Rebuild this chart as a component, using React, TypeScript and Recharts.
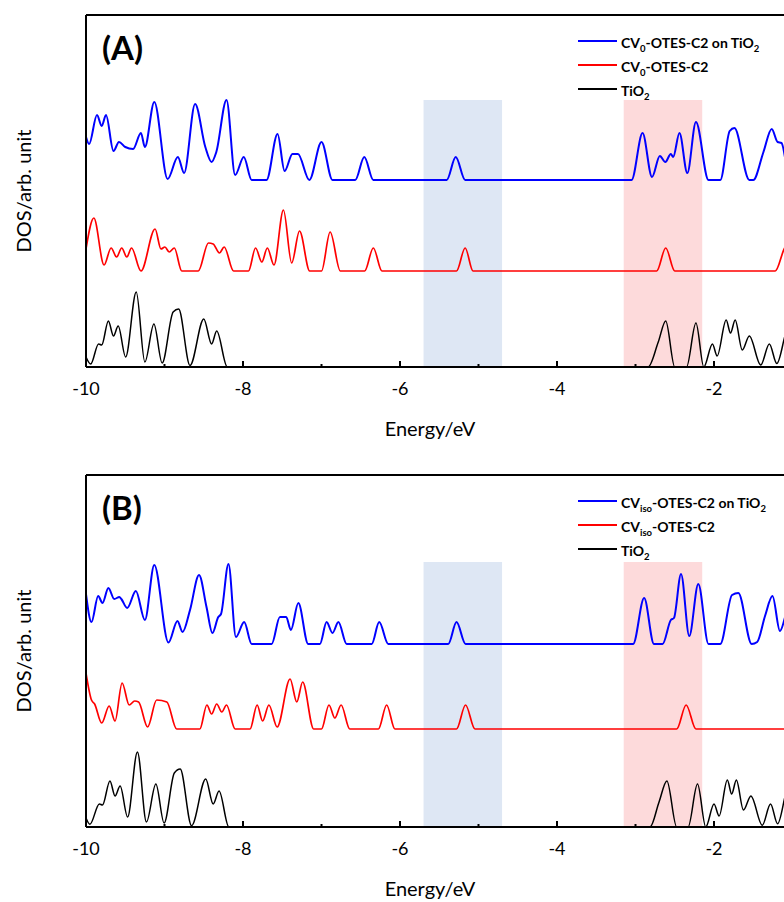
import React from 'react';
import { LineChart, Line, XAxis, YAxis, ReferenceArea, ReferenceLine, Legend } from 'recharts';

type Pt = [number, number];

const blueA: Pt[] = [
  [-10, 4.3], [-9.96, 3.6], [-9.86, 6.5], [-9.8, 5.4], [-9.745, 6.5], [-9.65, 2.9], [-9.58, 3.8],
  [-9.5, 3.3], [-9.4, 3.1], [-9.3, 4.7], [-9.25, 3.3], [-9.13, 7.8], [-8.96, 0.1], [-8.83, 2.3],
  [-8.75, 0.7], [-8.61, 7.6], [-8.48, 3.3], [-8.4, 1.8], [-8.34, 2.8], [-8.21, 8.0], [-8.1, 0.5],
  [-7.99, 2.3], [-7.89, 0], [-7.7, 0], [-7.56, 4.6], [-7.47, 0.9], [-7.37, 2.6], [-7.3, 2.6],
  [-7.155, 0], [-7.0, 3.8], [-6.86, 0], [-6.57, 0], [-6.455, 2.3], [-6.34, 0], [-5.405, 0],
  [-5.29, 2.3], [-5.17, 0], [-3.05, 0], [-2.91, 4.7], [-2.79, 0.3], [-2.69, 2.4], [-2.62, 1.8],
  [-2.55, 2.6], [-2.52, 2.3], [-2.44, 4.7], [-2.34, 0.7], [-2.23, 5.8], [-2.07, 0], [-1.92, 0],
  [-1.8, 4.9], [-1.74, 5.2], [-1.55, 0], [-1.5, 0], [-1.37, 2.8], [-1.265, 5.1], [-1.19, 3.8],
  [-1.14, 3.7], [-1.05, 0.6], [-0.95, 0],
];
const redA: Pt[] = [
  [-10, 2.2], [-9.9, 5.3], [-9.77, 0.6], [-9.68, 2.3], [-9.61, 1.4], [-9.545, 2.3], [-9.48, 1.4],
  [-9.42, 2.3], [-9.3, 0], [-9.12, 4.2], [-9.045, 2.2], [-8.995, 2.4], [-8.94, 1.9], [-8.875, 2.3],
  [-8.78, 0], [-8.57, 0], [-8.44, 2.8], [-8.38, 2.7], [-8.3, 1.8], [-8.24, 2.4], [-8.12, 0],
  [-7.93, 0], [-7.84, 2.3], [-7.76, 0.9], [-7.69, 2.3], [-7.605, 0.6], [-7.485, 6.1], [-7.38, 0.8],
  [-7.28, 4.0], [-7.15, 0], [-7.0, 0], [-6.89, 3.9], [-6.76, 0], [-6.45, 0], [-6.34, 2.3],
  [-6.23, 0], [-5.28, 0], [-5.17, 2.3], [-5.07, 0], [-2.73, 0], [-2.615, 2.3], [-2.5, 0],
  [-1.22, 0], [-1.1, 2.3], [-1.0, 3.0],
];
const blackA: Pt[] = [
  [-10, 1.0], [-9.94, 0.3], [-9.84, 2.3], [-9.8, 2.2], [-9.715, 4.6], [-9.65, 3.1], [-9.59, 4.1],
  [-9.495, 1.0], [-9.36, 7.5], [-9.25, 0.5], [-9.135, 4.3], [-9.03, 0.4], [-8.89, 5.5], [-8.82, 5.8],
  [-8.675, 0.15], [-8.5, 4.8], [-8.4, 2.3], [-8.335, 3.6], [-8.2, 0], [-2.84, 0], [-2.71, 2.5],
  [-2.615, 4.6], [-2.5, 0], [-2.35, 0], [-2.23, 4.4], [-2.13, 0], [-2.02, 2.3], [-1.96, 1.1],
  [-1.845, 4.7], [-1.79, 3.4], [-1.73, 4.7], [-1.64, 1.7], [-1.55, 3.1], [-1.405, 0.2],
  [-1.295, 2.3], [-1.2, 0.35], [-1.05, 4.0], [-0.95, 1.0],
];

const blueB: Pt[] = [
  [-10, 5.0], [-9.93, 2.2], [-9.845, 4.8], [-9.79, 4.1], [-9.715, 5.6], [-9.64, 4.5], [-9.575, 4.7],
  [-9.55, 4.5], [-9.475, 3.6], [-9.365, 5.3], [-9.25, 2.4], [-9.13, 7.9], [-8.95, 0.15], [-8.835, 2.3],
  [-8.77, 1.2], [-8.675, 3.4], [-8.56, 6.9], [-8.465, 3.7], [-8.39, 1.1], [-8.315, 2.7], [-8.28, 3.0],
  [-8.185, 8.0], [-8.09, 0.7], [-7.985, 2.2], [-7.89, 0], [-7.635, 0], [-7.53, 2.7], [-7.45, 2.7],
  [-7.39, 1.4], [-7.295, 4.1], [-7.17, 0], [-7.02, 0], [-6.935, 2.2], [-6.86, 1.1], [-6.785, 2.2],
  [-6.68, 0], [-6.36, 0], [-6.265, 2.2], [-6.15, 0], [-5.385, 0], [-5.28, 2.2], [-5.165, 0],
  [-3.03, 0], [-2.89, 4.6], [-2.765, 0], [-2.655, 0], [-2.55, 2.4], [-2.51, 2.6], [-2.42, 7.0],
  [-2.315, 0.8], [-2.2, 6.0], [-2.07, 0], [-1.92, 0], [-1.77, 4.9], [-1.69, 5.1], [-1.52, 0],
  [-1.45, 0.2], [-1.35, 2.8], [-1.255, 4.8], [-1.16, 1.3], [-1.05, 3.5], [-0.95, 0],
];
const redB: Pt[] = [
  [-10, 5.6], [-9.93, 2.9], [-9.89, 2.5], [-9.8, 0.6], [-9.705, 2.3], [-9.63, 0.8], [-9.54, 4.6],
  [-9.45, 2.4], [-9.38, 2.8], [-9.33, 2.7], [-9.215, 0.2], [-9.1, 2.9], [-8.97, 2.7], [-8.845, 0],
  [-8.55, 0], [-8.46, 2.4], [-8.4, 1.5], [-8.335, 2.5], [-8.27, 1.7], [-8.21, 2.4], [-8.1, 0],
  [-7.91, 0], [-7.82, 2.4], [-7.75, 0.8], [-7.67, 2.4], [-7.565, 0.2], [-7.4, 5.0], [-7.315, 2.7],
  [-7.24, 4.7], [-7.1, 0], [-7.0, 0], [-6.905, 2.4], [-6.83, 1.1], [-6.75, 2.4], [-6.64, 0],
  [-6.275, 0], [-6.17, 2.4], [-6.065, 0], [-5.28, 0], [-5.165, 2.4], [-5.045, 0], [-2.475, 0],
  [-2.355, 2.4], [-2.23, 0], [-0.95, 0],
];
const blackB: Pt[] = [
  [-10, 0.9], [-9.95, 0.27], [-9.83, 2.3], [-9.79, 2.2], [-9.695, 4.6], [-9.63, 3.1], [-9.565, 4.1],
  [-9.47, 1.0], [-9.345, 7.5], [-9.23, 0.5], [-9.11, 4.3], [-9.005, 0.4], [-8.875, 5.4], [-8.8, 5.8],
  [-8.655, 0.13], [-8.475, 4.8], [-8.38, 2.3], [-8.305, 3.6], [-8.18, 0], [-2.815, 0], [-2.7, 2.5],
  [-2.6, 4.6], [-2.475, 0], [-2.33, 0], [-2.21, 4.3], [-2.105, 0], [-2.0, 2.3], [-1.935, 1.1],
  [-1.83, 4.7], [-1.775, 3.3], [-1.715, 4.7], [-1.625, 1.7], [-1.53, 3.1], [-1.385, 0.17],
  [-1.28, 2.3], [-1.19, 0.33], [-1.05, 4.0], [-0.95, 1.0],
];

const namesA = ['CV_{0}-OTES-C2 on TiO_{2}', 'CV_{0}-OTES-C2', 'TiO_{2}'];
const namesB = ['CV_{iso}-OTES-C2 on TiO_{2}', 'CV_{iso}-OTES-C2', 'TiO_{2}'];

// the figure is cropped a little past -1 eV, so no label is drawn beyond -2
const xTicks = [-10, -9, -8, -7, -6, -5, -4, -3, -2, -1];
const blueWindow = [-5.7, -4.7];
const pinkWindow = [-3.15, -2.15];

const FONT = 'Lato, "Open Sans", sans-serif';
const Y_TOP = 35.2;

const rows = (pts: Pt[], shift: number) => pts.map(([e, v]) => ({ e, v: v + shift }));

// "TiO_{2}" -> TiO<sub>2</sub>
const chem = (s: string) =>
  s.split(/_\{([^}]*)\}/).map((part, i) =>
    i % 2 ? (
      <span key={i} style={{ fontSize: '0.68em', position: 'relative', top: 4 }}>{part}</span>
    ) : (
      <span key={i}>{part}</span>
    )
  );

const EnergyTick = (props: any) => {
  const { x, y, payload } = props;
  const major = payload.value % 2 === 0;
  return (
    <g>
      <line x1={x} x2={x} y1={y} y2={y - (major ? 6 : 3)} stroke="#000" strokeWidth={2} />
      {major && (
        <text x={x} y={y + 28} textAnchor="middle" fontSize={18} fontFamily={FONT} fill="#000">
          {payload.value}
        </text>
      )}
    </g>
  );
};

const colors = ['#0000ff', '#ff0000', '#000000'];

const DosLegend = ({ names }: { names: string[] }) => (
  <div style={{ fontFamily: FONT, fontWeight: 700, fontSize: 14, color: '#000' }}>
    {names.map((n, i) => (
      <div key={n} style={{ display: 'flex', alignItems: 'center', height: 24 }}>
        <div style={{ width: 39, height: 2, background: colors[i], marginRight: 4 }} />
        <div style={{ paddingTop: 3, whiteSpace: 'nowrap' }}>{chem(n)}</div>
      </div>
    ))}
  </div>
);

type PanelProps = {
  top: number;
  tag: string;
  curves: Pt[][];
  shifts: number[];
  shadeTop: number;
  names: string[];
};

function DosPanel({ top, tag, curves, shifts, shadeTop, names }: PanelProps) {
  const widths = [2, 1.7, 1.5];
  return (
    <div style={{ position: 'absolute', left: 0, top }}>
      <LineChart width={871} height={460} margin={{ top: 15, right: 0, bottom: 0, left: 0 }}>
        <XAxis
          type="number"
          dataKey="e"
          domain={[-10, 0]}
          ticks={xTicks}
          interval={0}
          tickSize={0}
          tickMargin={0}
          tick={<EnergyTick />}
          height={93}
          axisLine={{ stroke: '#000', strokeWidth: 2 }}
        />
        <YAxis
          type="number"
          domain={[0, Y_TOP]}
          width={86}
          tick={false}
          tickLine={false}
          axisLine={{ stroke: '#000', strokeWidth: 2 }}
          label={{
            value: 'DOS/arb. unit',
            angle: -90,
            position: 'insideLeft',
            offset: 24,
            style: { textAnchor: 'middle', fontSize: 20, fontFamily: FONT, fill: '#000' },
          }}
        />
        <ReferenceLine y={Y_TOP} stroke="#000" strokeWidth={2} />
        {curves.map((c, i) => (
          <Line
            key={i}
            data={rows(c, shifts[i])}
            dataKey="v"
            type="monotone"
            stroke={colors[i]}
            strokeWidth={widths[i]}
            dot={false}
            activeDot={false}
            isAnimationActive={false}
          />
        ))}
        <ReferenceArea x1={blueWindow[0]} x2={blueWindow[1]} y1={0} y2={shadeTop} fill="#5a87c8" fillOpacity={0.2} stroke="none" />
        <ReferenceArea x1={pinkWindow[0]} x2={pinkWindow[1]} y1={0} y2={shadeTop} fill="#f5464b" fillOpacity={0.2} stroke="none" />
        <Legend
          layout="vertical"
          align="center"
          verticalAlign="middle"
          wrapperStyle={{ left: 578, top: 29, width: 200 }}
          content={() => <DosLegend names={names} />}
        />
      </LineChart>
      <div style={{ position: 'absolute', left: 102, top: 31, fontFamily: FONT, fontWeight: 700, fontSize: 33, lineHeight: '33px' }}>
        {tag}
      </div>
      <div style={{ position: 'absolute', left: 330, top: 418, width: 200, textAlign: 'center', fontFamily: FONT, fontSize: 20, lineHeight: '20px' }}>
        Energy/eV
      </div>
    </div>
  );
}

export default function App() {
  return (
    <div style={{ position: 'fixed', left: 0, top: 0, width: 784, height: 902, overflow: 'hidden', background: '#fff' }}>
      <DosPanel top={0} tag="(A)" curves={[blueA, redA, blackA]} shifts={[18.7, 9.6, 0]} shadeTop={26.7} names={namesA} />
      <DosPanel top={460} tag="(B)" curves={[blueB, redB, blackB]} shifts={[18.3, 9.8, 0]} shadeTop={26.5} names={namesB} />
    </div>
  );
}
